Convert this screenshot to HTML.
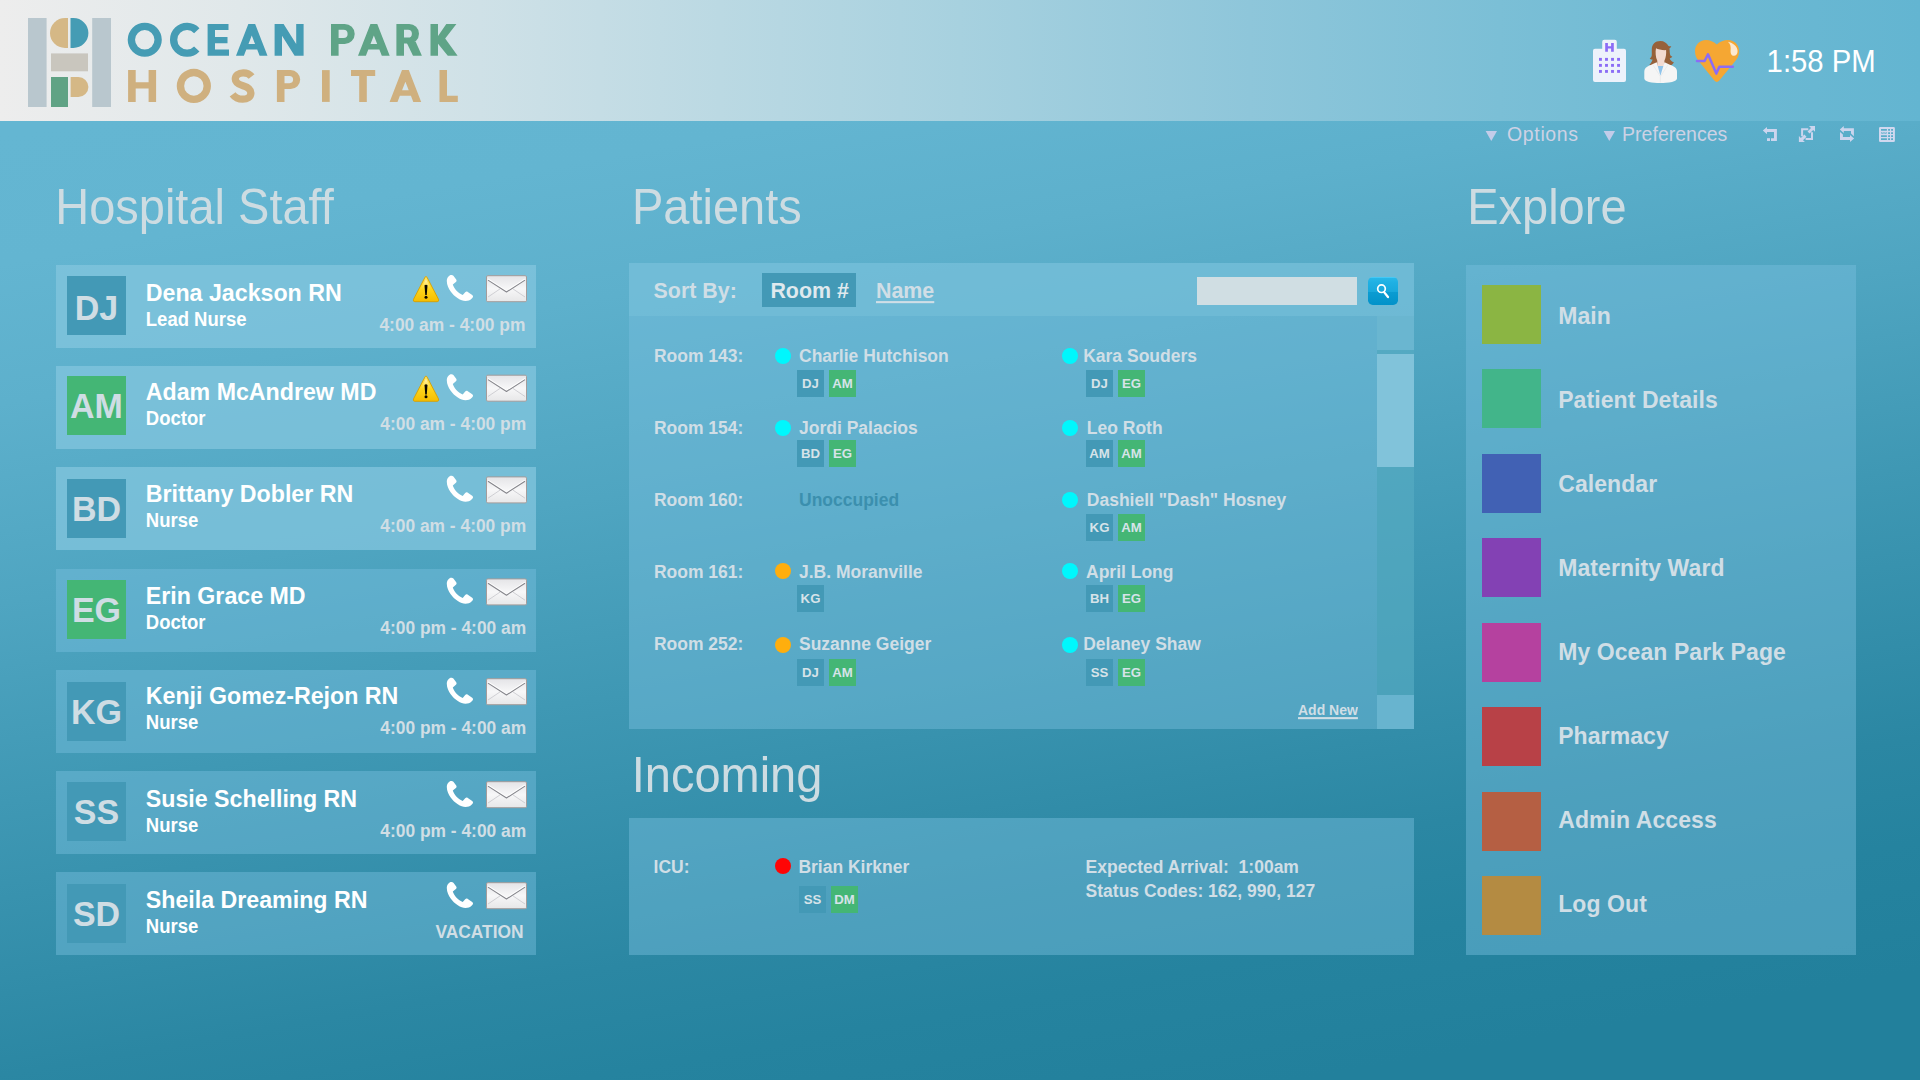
<!DOCTYPE html>
<html lang="en"><head><meta charset="utf-8"><title>Ocean Park Hospital</title>
<style>
html,body{margin:0;padding:0;}
body{width:1920px;height:1080px;overflow:hidden;font-family:"Liberation Sans",sans-serif;background:#2a86a4;}
#app{position:relative;width:1920px;height:1080px;overflow:hidden;
  background:linear-gradient(170deg,#64b6d2 9.55%,#63b5d1 18.6%,#5db0cc 28.45%,#4fa5c1 42.55%,#3f98b4 56.65%,#2b87a3 75.8%,#25839f 83.2%,#22809c 92.3%);}
.t{position:absolute;white-space:pre;line-height:1;font-family:"Liberation Sans",sans-serif;transform:scaleY(1.045);transform-origin:0 84.5%;}
.b{position:absolute;}
svg{position:absolute;overflow:visible;}
#hdr{position:absolute;left:0;top:0;width:1920px;height:121px;
  background:linear-gradient(90deg,#ededed 0%,#e0e8ea 12.5%,#cfe1e7 25%,#a7d1df 50%,#8ec6da 65.1%,#7bbfd6 78.1%,#6db9d3 89.1%,#63b5d1 100%);}
.dot{width:16px;height:16px;border-radius:50%;}
.chip{width:27px;height:27px;line-height:28.4px;text-align:center;font-size:13.2px;font-weight:700;color:#d6e3e9;font-family:"Liberation Sans",sans-serif;}

</style></head>
<body>
<div id="app">
<header id="top-bar" aria-label="Ocean Park Hospital">
<div id="hdr"></div>
<svg id="logo" width="480" height="121" viewBox="0 0 480 121" style="left:0;top:0"><rect x="28" y="18" width="18.6" height="89" fill="#b9c7ce"/><rect x="92.2" y="18" width="18.8" height="89" fill="#b9c7ce"/><path d="M68,18H65A15,15 0 0 0 65,48H68Z" fill="#d5b886"/><path d="M70.5,18H73.4A15,15 0 0 1 73.4,48H70.5Z" fill="#459cb4"/><rect x="51" y="53.4" width="37" height="17.9" fill="#c9c6be"/><rect x="51" y="77" width="17" height="30" fill="#60a385"/><path d="M70.6,77H78.4A10,10 0 0 1 78.4,97H70.6Z" fill="#d5b886"/><path d="M127.70,39.80A17.05,17.05 0 1 0 161.80,39.80A17.05,17.05 0 1 0 127.70,39.80ZM135.05,39.80A9.7,9.7 0 1 1 154.45,39.80A9.7,9.7 0 1 1 135.05,39.80Z" fill="#459cb4" fill-rule="evenodd"/><path d="M196.78,30.68A13.37,13.37 0 1 0 196.78,48.92" fill="none" stroke="#459cb4" stroke-width="7.35"/><path d="M207.6,23.9H215.0V55.8H207.6ZM214,23.9H228.5V30.1H214ZM214,37.0H227.5V43.2H214ZM214,49.6H229.0V55.8H214Z" fill="#459cb4"/><path d="M236.0,55.8L248.35,23.9L255.15,23.9L267.5,55.8ZM251.75,35.52L248.47,44.0L255.03,44.0ZM246.30,49.6L243.90,55.8L259.60,55.8L257.20,49.6Z" fill="#459cb4" fill-rule="evenodd"/><path d="M274.6,23.9H282.0V55.8H274.6ZM296.2,23.9H303.6V55.8H296.2ZM274.6,23.9L283.6,23.9L303.6,55.8L294.6,55.8Z" fill="#459cb4"/><path d="M331.0,23.9H344.70A10.0,10.0 0 0 1 344.70,43.9H338.6V55.8H331.0ZM338.6,29.8V38.0H343.50A4.1,4.1 0 0 0 343.50,29.8Z" fill="#5fa487" fill-rule="evenodd"/><path d="M358.0,55.8L370.45,23.9L377.25,23.9L389.7,55.8ZM373.85,35.43L370.51,44.0L377.19,44.0ZM368.32,49.6L365.90,55.8L381.80,55.8L379.38,49.6Z" fill="#5fa487" fill-rule="evenodd"/><path d="M396.4,23.9H409.20A9.8,9.8 0 0 1 409.20,43.5H404.0V55.8H396.4ZM404.0,29.8V37.6H408.00A3.9,3.9 0 0 0 408.00,29.8Z" fill="#5fa487" fill-rule="evenodd"/><path d="M406.6,42.5L415.6,41.5L421.9,55.8L413.0,55.8Z" fill="#5fa487"/><path d="M430.5,23.9H438.0V55.8H430.5ZM437,37.4L446.3,23.9L456.4,23.9L445.2,38.6L457.6,55.8L447.8,55.8L437,42.6Z" fill="#5fa487"/><path d="M128.1,70.1H135.7V101.9H128.1ZM148.6,70.1H156.1V101.9H148.6ZM135,82.3H149V88.5H135Z" fill="#cfb07f"/><path d="M176.75,85.95A17.1,17.1 0 1 0 210.95,85.95A17.1,17.1 0 1 0 176.75,85.95ZM184.15,85.95A9.7,9.7 0 1 1 203.55,85.95A9.7,9.7 0 1 1 184.15,85.95Z" fill="#cfb07f" fill-rule="evenodd"/><path d="M251.6,76.6C249.6,74.0 246.8,72.8 243.3,72.8C238.5,72.8 235.3,75.4 235.3,79.0C235.3,82.6 238.2,84.3 243.0,85.8C247.9,87.3 250.9,89.1 250.9,92.9C250.9,96.7 247.4,99.15 242.7,99.15C238.2,99.15 234.9,97.4 232.6,94.3" fill="none" stroke="#cfb07f" stroke-width="7.3"/><path d="M276.9,70.1H290.70A9.5,9.5 0 0 1 290.70,89.1H284.5V101.9H276.9ZM284.5,76.0V83.2H289.50A3.6,3.6 0 0 0 289.50,76.0Z" fill="#cfb07f" fill-rule="evenodd"/><path d="M322.0,70.1H329.7V101.9H322.0Z" fill="#cfb07f"/><path d="M351.0,70.1H375.2V76.0H351.0ZM359.2,70.1H366.8V101.9H359.2Z" fill="#cfb07f"/><path d="M389.6,101.9L402.00,70.1L408.80,70.1L421.2,101.9ZM405.40,81.64L402.06,90.2L408.74,90.2ZM399.88,95.8L397.50,101.9L413.30,101.9L410.92,95.8Z" fill="#cfb07f" fill-rule="evenodd"/><path d="M439.5,70.1H447.0V101.9H439.5ZM446,95.7H457.8V101.9H446Z" fill="#cfb07f"/></svg>
<svg width="1920" height="121" viewBox="0 0 1920 121" style="left:0;top:0"><path d="M1604.2,39.8H1614.8Q1616.8,39.8 1616.8,41.8V48.7H1624Q1626,48.7 1626,50.7V80Q1626,82 1624,82H1595Q1593,82 1593,80V50.7Q1593,48.7 1595,48.7H1602.2V41.8Q1602.2,39.8 1604.2,39.8Z" fill="#edf2fb"/><path d="M1605.2,43.1H1607.9V46.2H1611.1V43.1H1613.8V51.8H1611.1V48.6H1607.9V51.8H1605.2Z" fill="#8b6cf6"/><rect x="1599.00" y="57.90" width="2.9" height="2.9" fill="#8b6cf6"/><rect x="1605.03" y="57.90" width="2.9" height="2.9" fill="#8b6cf6"/><rect x="1611.06" y="57.90" width="2.9" height="2.9" fill="#8b6cf6"/><rect x="1617.09" y="57.90" width="2.9" height="2.9" fill="#8b6cf6"/><rect x="1599.00" y="63.93" width="2.9" height="2.9" fill="#8b6cf6"/><rect x="1605.03" y="63.93" width="2.9" height="2.9" fill="#8b6cf6"/><rect x="1611.06" y="63.93" width="2.9" height="2.9" fill="#8b6cf6"/><rect x="1617.09" y="63.93" width="2.9" height="2.9" fill="#8b6cf6"/><rect x="1599.00" y="69.96" width="2.9" height="2.9" fill="#8b6cf6"/><rect x="1605.03" y="69.96" width="2.9" height="2.9" fill="#8b6cf6"/><rect x="1611.06" y="69.96" width="2.9" height="2.9" fill="#8b6cf6"/><rect x="1617.09" y="69.96" width="2.9" height="2.9" fill="#8b6cf6"/></svg>
<div class="t " style="left:1766.60px;top:47px;font-size:29.3px;font-weight:400;color:#fff;">1:58 PM</div>
<svg width="1920" height="160" viewBox="0 0 1920 160" style="left:0;top:0"><path d="M1660.4,41C1655,41 1652,44.5 1651.8,49C1651.6,53 1652.3,55.5 1651.2,57C1650.7,57.8 1650,58.2 1649.7,58.4C1650.5,59.2 1651.6,59.6 1652.6,59.6C1652,61.8 1650.8,63.6 1649.3,64.8L1656,67L1665,67L1672,64.8C1672.8,64 1673.5,63.2 1673.9,62.3C1671.8,61.6 1670.3,60.2 1669.7,58.4C1670.8,58.2 1671.7,57.6 1672.3,56.6C1671,56.2 1670.3,55.5 1670.1,54.6C1669.6,52.5 1669.8,50.5 1669.4,48.5C1670.3,48 1671,47.2 1671.3,46.2C1670.3,46.5 1669.3,46.4 1668.5,46C1667,43 1664,41 1660.4,41Z" fill="#97613a"/><path d="M1656,48.2C1658,49.3 1662,50.3 1666.1,50.1C1666.4,54 1666,57.5 1664.4,60.8V67H1657.3V60.8C1655.6,57.5 1655.2,52 1656,48.2Z" fill="#f3dbd2"/><path d="M1657,66H1664.4L1660.4,77Z" fill="#8fc3ea"/><path d="M1656.7,62.3L1660.4,75.8L1664.5,62.3C1668,64 1672,65.5 1674.5,67C1676.5,68.3 1677,70 1677,72V78.5C1677,80 1675,81.2 1672,82C1668,82.8 1664,83 1660.4,83C1656,83 1652,82.8 1649,82C1646,81.2 1644.3,80 1644.3,78.5V72C1644.3,70 1644.8,68.3 1646.8,67C1649.3,65.5 1653,64 1656.7,62.3Z" fill="#f5f5f5"/><path d="M1653.2,65.2L1660.4,76.6L1667.8,65.2M1660.4,76.6V82.6" fill="none" stroke="#e6e6e6" stroke-width=".7"/><path d="M1716.8,44.6C1713.5,41.5 1710,40 1706,40C1699.5,40 1695,45 1695,51C1695,55.5 1696.5,58.5 1699.5,62L1714.3,80.6Q1716.8,83.2 1719.3,80.6L1734.5,62C1737.5,58.5 1739.1,55.5 1739.1,51C1739.1,45 1734.5,40 1728,40C1723.5,40 1720,41.5 1716.8,44.6Z" fill="#f5a733"/><path d="M1727.9,41.8C1732,42.5 1737.5,46 1737.6,51C1737.7,54 1736,55.8 1734,55.8C1731.5,55.8 1730.3,53.5 1730.6,50.5C1731,47 1730.5,44 1727.9,41.8Z" fill="#fde9cf"/><path d="M1697,61H1704.6L1708,54.3L1716.3,73.6L1719.4,66.7H1732.8" fill="none" stroke="#8b6cf6" stroke-width="2.5" stroke-linecap="round" stroke-linejoin="round"/><path d="M1485.6,131H1497L1491.3,140.9Z" fill="#c3cce9"/><path d="M1603.6,131H1615L1609.3,140.9Z" fill="#c3cce9"/><path d="M1762.8,130.55L1767,126.9V129.1H1776.9V141H1771V138.2H1774V132H1767V134.2Z" fill="#ccd5ee"/><rect x="1767" y="138.2" width="3" height="2.8" fill="#ccd5ee"/><path d="M1808.3,129.2H1802.1V136.2M1805.6,138.9H1812V132.2" fill="none" stroke="#ccd5ee" stroke-width="2"/><path d="M1809,126H1815V131.8L1813.1,130L1809.6,133.5L1807.5,131.4L1811,127.9Z" fill="#ccd5ee"/><path d="M1798.9,136V142.1H1804.9L1803,140.2L1806.5,136.7L1804.4,134.6L1800.9,138.1Z" fill="#ccd5ee"/><path d="M1839.8,129.5L1843.8,126V128.2H1853.9V136.2L1851,133.6V130.9H1843.8V132.9Z" fill="#ccd5ee"/><path d="M1854.1,138.5L1850,142.1V139.9H1840V131.9L1842.9,134.5V137.1H1850V135Z" fill="#ccd5ee"/><path d="M1880.3,126.9H1893.6Q1894.9,126.9 1894.9,128.2V140.8Q1894.9,142.1 1893.6,142.1H1880.3Q1879,142.1 1879,140.8V128.2Q1879,126.9 1880.3,126.9ZM1881,129.1h5.9v1.75h-5.9ZM1888.1,129.1h1.9v1.75h-1.9ZM1891.1,129.1h1.9v1.75h-1.9ZM1881,132.2h5.9v1.75h-5.9ZM1888.1,132.2h1.9v1.75h-1.9ZM1891.1,132.2h1.9v1.75h-1.9ZM1881,135.2h5.9v1.75h-5.9ZM1888.1,135.2h1.9v1.75h-1.9ZM1891.1,135.2h1.9v1.75h-1.9ZM1881,138.2h5.9v1.75h-5.9ZM1888.1,138.2h1.9v1.75h-1.9ZM1891.1,138.2h1.9v1.75h-1.9Z" fill="#d0d8ef" fill-rule="evenodd"/><path d="M1881,132.5l.75,1.1l.75,-1.1l.75,1.1l.75,-1.1l.75,1.1l.75,-1.1l.75,1.1l.65,-1" fill="none" stroke="#d0d8ef" stroke-width=".7"/></svg>
<div class="t " style="left:1507.00px;top:125px;font-size:19.5px;font-weight:400;color:#cdd2e5;letter-spacing:.65px;">Options</div>
<div class="t " style="left:1622.10px;top:125px;font-size:19.5px;font-weight:400;color:#cdd2e5;letter-spacing:.01px;">Preferences</div>
</header>
<section id="hospital-staff" aria-label="Hospital Staff">
<div class="t " style="left:55.20px;top:184px;font-size:47px;font-weight:400;color:#cddce2;">Hospital Staff</div>
<svg width="0" height="0" style="left:0;top:0"><defs>
<linearGradient id="gw" x1="0" y1="0" x2="0" y2="1"><stop offset="0" stop-color="#ffe36a"/><stop offset=".45" stop-color="#ffd81f"/><stop offset="1" stop-color="#f6bd00"/></linearGradient>
<linearGradient id="gwh" x1="0" y1="0" x2="0" y2="1"><stop offset="0" stop-color="#fff6c2" stop-opacity=".95"/><stop offset="1" stop-color="#ffe870" stop-opacity="0"/></linearGradient>
<linearGradient id="ge" x1="0" y1="0" x2="0" y2="1"><stop offset="0" stop-color="#e4e4e7"/><stop offset=".5" stop-color="#f7f7f8"/><stop offset="1" stop-color="#e7e7e8"/></linearGradient>
</defs></svg>
<div class="b" style="left:56px;top:265px;width:480px;height:83px;background:rgba(131,198,221,.75);"></div>
<div class="b" style="left:67px;top:276px;width:59px;height:59px;background:#4399b6;"></div>
<div class="t" style="left:67px;width:59px;text-align:center;top:291px;font-size:34px;font-weight:700;color:#cfdde4">DJ</div>
<div class="t " style="left:145.80px;top:282px;font-size:23.2px;font-weight:700;color:#fff;">Dena Jackson RN</div>
<div class="t " style="left:145.80px;top:311px;font-size:18.5px;font-weight:700;color:#fff;">Lead Nurse</div>
<div class="t " style="right:1394.60px;top:317px;font-size:17.4px;font-weight:700;color:#d0dee5;">4:00 am - 4:00 pm</div>
<div class="b" style="left:56px;top:366px;width:480px;height:83px;background:rgba(131,198,221,.75);"></div>
<div class="b" style="left:67px;top:376px;width:59px;height:59px;background:#44b675;"></div>
<div class="t" style="left:67px;width:59px;text-align:center;top:389px;font-size:34px;font-weight:700;color:#cfdde4">AM</div>
<div class="t " style="left:145.80px;top:381px;font-size:23.2px;font-weight:700;color:#fff;">Adam McAndrew MD</div>
<div class="t " style="left:145.80px;top:410px;font-size:18.5px;font-weight:700;color:#fff;">Doctor</div>
<div class="t " style="right:1393.80px;top:416px;font-size:17.4px;font-weight:700;color:#d0dee5;">4:00 am - 4:00 pm</div>
<div class="b" style="left:56px;top:467px;width:480px;height:83px;background:rgba(131,198,221,.75);"></div>
<div class="b" style="left:67px;top:479px;width:59px;height:59px;background:#4399b6;"></div>
<div class="t" style="left:67px;width:59px;text-align:center;top:492px;font-size:34px;font-weight:700;color:#cfdde4">BD</div>
<div class="t " style="left:145.80px;top:483px;font-size:23.2px;font-weight:700;color:#fff;">Brittany Dobler RN</div>
<div class="t " style="left:145.80px;top:512px;font-size:18.5px;font-weight:700;color:#fff;">Nurse</div>
<div class="t " style="right:1393.80px;top:518px;font-size:17.4px;font-weight:700;color:#d0dee5;">4:00 am - 4:00 pm</div>
<div class="b" style="left:56px;top:569px;width:480px;height:83px;background:rgba(120,191,222,.45);"></div>
<div class="b" style="left:67px;top:580px;width:59px;height:59px;background:#44b675;"></div>
<div class="t" style="left:67px;width:59px;text-align:center;top:593px;font-size:34px;font-weight:700;color:#cfdde4">EG</div>
<div class="t " style="left:145.80px;top:585px;font-size:23.2px;font-weight:700;color:#fff;">Erin Grace MD</div>
<div class="t " style="left:145.80px;top:614px;font-size:18.5px;font-weight:700;color:#fff;">Doctor</div>
<div class="t " style="right:1393.80px;top:620px;font-size:17.4px;font-weight:700;color:#d0dee5;">4:00 pm - 4:00 am</div>
<div class="b" style="left:56px;top:670px;width:480px;height:83px;background:rgba(120,191,222,.45);"></div>
<div class="b" style="left:67px;top:682px;width:59px;height:59px;background:#4399b6;"></div>
<div class="t" style="left:67px;width:59px;text-align:center;top:695px;font-size:34px;font-weight:700;color:#cfdde4">KG</div>
<div class="t " style="left:145.80px;top:685px;font-size:23.2px;font-weight:700;color:#fff;">Kenji Gomez-Rejon RN</div>
<div class="t " style="left:145.80px;top:714px;font-size:18.5px;font-weight:700;color:#fff;">Nurse</div>
<div class="t " style="right:1393.80px;top:720px;font-size:17.4px;font-weight:700;color:#d0dee5;">4:00 pm - 4:00 am</div>
<div class="b" style="left:56px;top:771px;width:480px;height:83px;background:rgba(120,191,222,.45);"></div>
<div class="b" style="left:67px;top:782px;width:59px;height:59px;background:#4399b6;"></div>
<div class="t" style="left:67px;width:59px;text-align:center;top:795px;font-size:34px;font-weight:700;color:#cfdde4">SS</div>
<div class="t " style="left:145.80px;top:788px;font-size:23.2px;font-weight:700;color:#fff;">Susie Schelling RN</div>
<div class="t " style="left:145.80px;top:817px;font-size:18.5px;font-weight:700;color:#fff;">Nurse</div>
<div class="t " style="right:1393.80px;top:823px;font-size:17.4px;font-weight:700;color:#d0dee5;">4:00 pm - 4:00 am</div>
<div class="b" style="left:56px;top:872px;width:480px;height:83px;background:rgba(120,191,222,.45);"></div>
<div class="b" style="left:67px;top:884px;width:59px;height:59px;background:#4399b6;"></div>
<div class="t" style="left:67px;width:59px;text-align:center;top:897px;font-size:34px;font-weight:700;color:#cfdde4">SD</div>
<div class="t " style="left:145.80px;top:889px;font-size:23.2px;font-weight:700;color:#fff;">Sheila Dreaming RN</div>
<div class="t " style="left:145.80px;top:918px;font-size:18.5px;font-weight:700;color:#fff;">Nurse</div>
<div class="t " style="right:1396.40px;top:924px;font-size:17.4px;font-weight:700;color:#d0dee5;">VACATION</div>
<svg width="1920" height="1080" viewBox="0 0 1920 1080" style="left:0;top:0;pointer-events:none"><g transform="translate(413 276.0)"><path d="M12.1,1.1Q13,-0.4 13.9,1.1L25.5,23.3Q26.3,25.6 24.2,25.7H1.8Q-0.3,25.6 0.5,23.3Z" fill="url(#gw)" stroke="#d79f00" stroke-width="0.9" stroke-linejoin="round"/><path d="M13,3.2L18.3,13.5Q13,11.8 7.7,13.5Z" fill="url(#gwh)"/><path d="M11.5,9.3Q13,8.1 14.5,9.3L13.75,18.9H12.25Z" fill="#0a0700"/><circle cx="13" cy="21.2" r="1.5" fill="#0a0700"/></g><g transform="translate(446.8 274.9)"><path d="M4.4,0.1C2.7,0 0,2.6 0,6.1C0.1,10.1 1.7,13.6 3.7,16.3C5.7,19.1 8.2,21.6 11,23.3C13.7,25 16.2,26.1 18.7,26.1C21.2,26.1 23.2,25.4 25,23.6C26.7,21.9 26.5,20.9 25.4,20L21,17C20,16.3 19.2,16.5 18.4,17.3L15.9,20.2C13.2,19.1 11.2,17.6 9.5,15.7C7.8,13.8 6.7,11.9 6,9.7L9.1,7.1C9.9,6.4 10,5.6 9.4,4.6L6.6,0.9C6,0.2 5.2,0 4.4,0.1Z" fill="#fff"/></g><g transform="translate(486 275.2)"><rect x="0.5" y="0.5" width="40" height="26" rx="1.3" fill="url(#ge)" stroke="#a39c9b" stroke-width="1"/><path d="M2,21.8L14.2,13.6M39,21.8L26.8,13.6" stroke="#c6c6cb" stroke-width="0.8" fill="none"/><path d="M2,4.0L20.5,15.9L39,4.0" stroke="#ffffff" stroke-width="1.6" fill="none" opacity=".9"/><path d="M2,4.9L20.5,16.8L39,4.9" stroke="#85858b" stroke-width="1.05" fill="none" stroke-linejoin="round"/></g><g transform="translate(413 375.6)"><path d="M12.1,1.1Q13,-0.4 13.9,1.1L25.5,23.3Q26.3,25.6 24.2,25.7H1.8Q-0.3,25.6 0.5,23.3Z" fill="url(#gw)" stroke="#d79f00" stroke-width="0.9" stroke-linejoin="round"/><path d="M13,3.2L18.3,13.5Q13,11.8 7.7,13.5Z" fill="url(#gwh)"/><path d="M11.5,9.3Q13,8.1 14.5,9.3L13.75,18.9H12.25Z" fill="#0a0700"/><circle cx="13" cy="21.2" r="1.5" fill="#0a0700"/></g><g transform="translate(446.8 374.2)"><path d="M4.4,0.1C2.7,0 0,2.6 0,6.1C0.1,10.1 1.7,13.6 3.7,16.3C5.7,19.1 8.2,21.6 11,23.3C13.7,25 16.2,26.1 18.7,26.1C21.2,26.1 23.2,25.4 25,23.6C26.7,21.9 26.5,20.9 25.4,20L21,17C20,16.3 19.2,16.5 18.4,17.3L15.9,20.2C13.2,19.1 11.2,17.6 9.5,15.7C7.8,13.8 6.7,11.9 6,9.7L9.1,7.1C9.9,6.4 10,5.6 9.4,4.6L6.6,0.9C6,0.2 5.2,0 4.4,0.1Z" fill="#fff"/></g><g transform="translate(486 374.7)"><rect x="0.5" y="0.5" width="40" height="26" rx="1.3" fill="url(#ge)" stroke="#a39c9b" stroke-width="1"/><path d="M2,21.8L14.2,13.6M39,21.8L26.8,13.6" stroke="#c6c6cb" stroke-width="0.8" fill="none"/><path d="M2,4.0L20.5,15.9L39,4.0" stroke="#ffffff" stroke-width="1.6" fill="none" opacity=".9"/><path d="M2,4.9L20.5,16.8L39,4.9" stroke="#85858b" stroke-width="1.05" fill="none" stroke-linejoin="round"/></g><g transform="translate(446.8 475.7)"><path d="M4.4,0.1C2.7,0 0,2.6 0,6.1C0.1,10.1 1.7,13.6 3.7,16.3C5.7,19.1 8.2,21.6 11,23.3C13.7,25 16.2,26.1 18.7,26.1C21.2,26.1 23.2,25.4 25,23.6C26.7,21.9 26.5,20.9 25.4,20L21,17C20,16.3 19.2,16.5 18.4,17.3L15.9,20.2C13.2,19.1 11.2,17.6 9.5,15.7C7.8,13.8 6.7,11.9 6,9.7L9.1,7.1C9.9,6.4 10,5.6 9.4,4.6L6.6,0.9C6,0.2 5.2,0 4.4,0.1Z" fill="#fff"/></g><g transform="translate(486 476.4)"><rect x="0.5" y="0.5" width="40" height="26" rx="1.3" fill="url(#ge)" stroke="#a39c9b" stroke-width="1"/><path d="M2,21.8L14.2,13.6M39,21.8L26.8,13.6" stroke="#c6c6cb" stroke-width="0.8" fill="none"/><path d="M2,4.0L20.5,15.9L39,4.0" stroke="#ffffff" stroke-width="1.6" fill="none" opacity=".9"/><path d="M2,4.9L20.5,16.8L39,4.9" stroke="#85858b" stroke-width="1.05" fill="none" stroke-linejoin="round"/></g><g transform="translate(446.8 577.7)"><path d="M4.4,0.1C2.7,0 0,2.6 0,6.1C0.1,10.1 1.7,13.6 3.7,16.3C5.7,19.1 8.2,21.6 11,23.3C13.7,25 16.2,26.1 18.7,26.1C21.2,26.1 23.2,25.4 25,23.6C26.7,21.9 26.5,20.9 25.4,20L21,17C20,16.3 19.2,16.5 18.4,17.3L15.9,20.2C13.2,19.1 11.2,17.6 9.5,15.7C7.8,13.8 6.7,11.9 6,9.7L9.1,7.1C9.9,6.4 10,5.6 9.4,4.6L6.6,0.9C6,0.2 5.2,0 4.4,0.1Z" fill="#fff"/></g><g transform="translate(486 578.4)"><rect x="0.5" y="0.5" width="40" height="26" rx="1.3" fill="url(#ge)" stroke="#a39c9b" stroke-width="1"/><path d="M2,21.8L14.2,13.6M39,21.8L26.8,13.6" stroke="#c6c6cb" stroke-width="0.8" fill="none"/><path d="M2,4.0L20.5,15.9L39,4.0" stroke="#ffffff" stroke-width="1.6" fill="none" opacity=".9"/><path d="M2,4.9L20.5,16.8L39,4.9" stroke="#85858b" stroke-width="1.05" fill="none" stroke-linejoin="round"/></g><g transform="translate(446.8 677.7)"><path d="M4.4,0.1C2.7,0 0,2.6 0,6.1C0.1,10.1 1.7,13.6 3.7,16.3C5.7,19.1 8.2,21.6 11,23.3C13.7,25 16.2,26.1 18.7,26.1C21.2,26.1 23.2,25.4 25,23.6C26.7,21.9 26.5,20.9 25.4,20L21,17C20,16.3 19.2,16.5 18.4,17.3L15.9,20.2C13.2,19.1 11.2,17.6 9.5,15.7C7.8,13.8 6.7,11.9 6,9.7L9.1,7.1C9.9,6.4 10,5.6 9.4,4.6L6.6,0.9C6,0.2 5.2,0 4.4,0.1Z" fill="#fff"/></g><g transform="translate(486 678.2)"><rect x="0.5" y="0.5" width="40" height="26" rx="1.3" fill="url(#ge)" stroke="#a39c9b" stroke-width="1"/><path d="M2,21.8L14.2,13.6M39,21.8L26.8,13.6" stroke="#c6c6cb" stroke-width="0.8" fill="none"/><path d="M2,4.0L20.5,15.9L39,4.0" stroke="#ffffff" stroke-width="1.6" fill="none" opacity=".9"/><path d="M2,4.9L20.5,16.8L39,4.9" stroke="#85858b" stroke-width="1.05" fill="none" stroke-linejoin="round"/></g><g transform="translate(446.8 780.9)"><path d="M4.4,0.1C2.7,0 0,2.6 0,6.1C0.1,10.1 1.7,13.6 3.7,16.3C5.7,19.1 8.2,21.6 11,23.3C13.7,25 16.2,26.1 18.7,26.1C21.2,26.1 23.2,25.4 25,23.6C26.7,21.9 26.5,20.9 25.4,20L21,17C20,16.3 19.2,16.5 18.4,17.3L15.9,20.2C13.2,19.1 11.2,17.6 9.5,15.7C7.8,13.8 6.7,11.9 6,9.7L9.1,7.1C9.9,6.4 10,5.6 9.4,4.6L6.6,0.9C6,0.2 5.2,0 4.4,0.1Z" fill="#fff"/></g><g transform="translate(486 781.2)"><rect x="0.5" y="0.5" width="40" height="26" rx="1.3" fill="url(#ge)" stroke="#a39c9b" stroke-width="1"/><path d="M2,21.8L14.2,13.6M39,21.8L26.8,13.6" stroke="#c6c6cb" stroke-width="0.8" fill="none"/><path d="M2,4.0L20.5,15.9L39,4.0" stroke="#ffffff" stroke-width="1.6" fill="none" opacity=".9"/><path d="M2,4.9L20.5,16.8L39,4.9" stroke="#85858b" stroke-width="1.05" fill="none" stroke-linejoin="round"/></g><g transform="translate(446.8 881.9)"><path d="M4.4,0.1C2.7,0 0,2.6 0,6.1C0.1,10.1 1.7,13.6 3.7,16.3C5.7,19.1 8.2,21.6 11,23.3C13.7,25 16.2,26.1 18.7,26.1C21.2,26.1 23.2,25.4 25,23.6C26.7,21.9 26.5,20.9 25.4,20L21,17C20,16.3 19.2,16.5 18.4,17.3L15.9,20.2C13.2,19.1 11.2,17.6 9.5,15.7C7.8,13.8 6.7,11.9 6,9.7L9.1,7.1C9.9,6.4 10,5.6 9.4,4.6L6.6,0.9C6,0.2 5.2,0 4.4,0.1Z" fill="#fff"/></g><g transform="translate(486 882.2)"><rect x="0.5" y="0.5" width="40" height="26" rx="1.3" fill="url(#ge)" stroke="#a39c9b" stroke-width="1"/><path d="M2,21.8L14.2,13.6M39,21.8L26.8,13.6" stroke="#c6c6cb" stroke-width="0.8" fill="none"/><path d="M2,4.0L20.5,15.9L39,4.0" stroke="#ffffff" stroke-width="1.6" fill="none" opacity=".9"/><path d="M2,4.9L20.5,16.8L39,4.9" stroke="#85858b" stroke-width="1.05" fill="none" stroke-linejoin="round"/></g></svg>
</section>
<section id="patients" aria-label="Patients and Incoming">
<div class="t " style="left:631.90px;top:184px;font-size:47px;font-weight:400;color:#cddce2;">Patients</div>
<div class="t " style="left:631.70px;top:752px;font-size:47px;font-weight:400;color:#cddce2;">Incoming</div>
<div class="b" style="left:629px;top:263px;width:785px;height:53px;background:rgba(121,193,219,.72);"></div>
<div class="b" style="left:629px;top:316px;width:748px;height:413px;background:rgba(120,191,222,.45);"></div>
<div class="b" style="left:1377px;top:316px;width:37px;height:34px;background:rgba(107,182,209,.95);"></div>
<div class="b" style="left:1377px;top:350px;width:37px;height:345px;background:rgba(87,171,194,.67);"></div>
<div class="b" style="left:1377px;top:354px;width:37px;height:113px;background:rgba(134,198,220,.92);"></div>
<div class="b" style="left:1377px;top:695px;width:37px;height:34px;background:rgba(107,182,209,.95);"></div>
<div class="t " style="left:653.60px;top:281px;font-size:21.4px;font-weight:700;color:#d0dee6;">Sort By:</div>
<div class="b" style="left:762px;top:273.4px;width:94px;height:33.4px;background:#4399b6;"></div>
<div class="t " style="left:770.40px;top:281px;font-size:21.4px;font-weight:700;color:#dfe9ee;">Room #</div>
<div class="t " style="left:876.00px;top:281px;font-size:21.4px;font-weight:700;color:#d0dee6;text-decoration:underline;text-decoration-thickness:2px;text-underline-offset:3px;">Name</div>
<div class="b" style="left:1197px;top:277px;width:160px;height:28px;background:#d0dee3;"></div>
<div class="b" style="left:1368px;top:277px;width:30px;height:28.2px;border-radius:4.8px;background:linear-gradient(180deg,#58d2fd 0,#27b7e8 1.3px,#1fb0e3 20%,#18a8dc 53%,#0b9cd2 54%,#0292c9 100%)"></div>
<svg width="30" height="28" viewBox="0 0 30 28" style="left:1368px;top:277px"><circle cx="13.5" cy="11.7" r="3.8" fill="none" stroke="#fff" stroke-width="1.7"/><path d="M16.3,15.4L20.0,20.0" stroke="#fff" stroke-width="2.3" stroke-linecap="round"/></svg>
<div class="t " style="left:653.90px;top:348px;font-size:17.5px;font-weight:700;color:#d0dee6;">Room 143:</div>
<div class="b dot" style="left:775px;top:348px;background:#00f7fd"></div>
<div class="t " style="left:799.00px;top:348px;font-size:17.5px;font-weight:700;color:#d0dee6;">Charlie Hutchison</div>
<div class="b chip" style="left:797px;top:370px;background:#4399b6">DJ</div><div class="b chip" style="left:829px;top:370px;background:#44b675">AM</div>
<div class="b dot" style="left:1062px;top:348px;background:#00f7fd"></div>
<div class="t " style="left:1083.20px;top:348px;font-size:17.5px;font-weight:700;color:#d0dee6;">Kara Souders</div>
<div class="b chip" style="left:1086px;top:370px;background:#4399b6">DJ</div><div class="b chip" style="left:1118px;top:370px;background:#44b675">EG</div>
<div class="t " style="left:653.90px;top:420px;font-size:17.5px;font-weight:700;color:#d0dee6;">Room 154:</div>
<div class="b dot" style="left:775px;top:420px;background:#00f7fd"></div>
<div class="t " style="left:799.00px;top:420px;font-size:17.5px;font-weight:700;color:#d0dee6;">Jordi Palacios</div>
<div class="b chip" style="left:797px;top:440px;background:#4399b6">BD</div><div class="b chip" style="left:829px;top:440px;background:#44b675">EG</div>
<div class="b dot" style="left:1062px;top:420px;background:#00f7fd"></div>
<div class="t " style="left:1086.80px;top:420px;font-size:17.5px;font-weight:700;color:#d0dee6;">Leo Roth</div>
<div class="b chip" style="left:1086px;top:440px;background:#4399b6">AM</div><div class="b chip" style="left:1118px;top:440px;background:#44b675">AM</div>
<div class="t " style="left:653.90px;top:492px;font-size:17.5px;font-weight:700;color:#d0dee6;">Room 160:</div>
<div class="t " style="left:799.00px;top:492px;font-size:17.5px;font-weight:700;color:#3b8fae;">Unoccupied</div>
<div class="b dot" style="left:1062px;top:492px;background:#00f7fd"></div>
<div class="t " style="left:1086.80px;top:492px;font-size:17.5px;font-weight:700;color:#d0dee6;">Dashiell "Dash" Hosney</div>
<div class="b chip" style="left:1086px;top:514px;background:#4399b6">KG</div><div class="b chip" style="left:1118px;top:514px;background:#44b675">AM</div>
<div class="t " style="left:653.90px;top:564px;font-size:17.5px;font-weight:700;color:#d0dee6;">Room 161:</div>
<div class="b dot" style="left:775px;top:563px;background:#ffae0d"></div>
<div class="t " style="left:799.00px;top:564px;font-size:17.5px;font-weight:700;color:#d0dee6;">J.B. Moranville</div>
<div class="b chip" style="left:797px;top:585px;background:#4399b6">KG</div>
<div class="b dot" style="left:1062px;top:563px;background:#00f7fd"></div>
<div class="t " style="left:1086.00px;top:564px;font-size:17.5px;font-weight:700;color:#d0dee6;">April Long</div>
<div class="b chip" style="left:1086px;top:585px;background:#4399b6">BH</div><div class="b chip" style="left:1118px;top:585px;background:#44b675">EG</div>
<div class="t " style="left:653.90px;top:636px;font-size:17.5px;font-weight:700;color:#d0dee6;">Room 252:</div>
<div class="b dot" style="left:775px;top:637px;background:#ffae0d"></div>
<div class="t " style="left:799.00px;top:636px;font-size:17.5px;font-weight:700;color:#d0dee6;">Suzanne Geiger</div>
<div class="b chip" style="left:797px;top:659px;background:#4399b6">DJ</div><div class="b chip" style="left:829px;top:659px;background:#44b675">AM</div>
<div class="b dot" style="left:1062px;top:637px;background:#00f7fd"></div>
<div class="t " style="left:1083.20px;top:636px;font-size:17.5px;font-weight:700;color:#d0dee6;">Delaney Shaw</div>
<div class="b chip" style="left:1086px;top:659px;background:#4399b6">SS</div><div class="b chip" style="left:1118px;top:659px;background:#44b675">EG</div>
<div class="t " style="left:1298.00px;top:703px;font-size:14px;font-weight:700;color:#d0dee6;text-decoration:underline;text-decoration-thickness:1.5px;text-underline-offset:2px;">Add New</div>
<div class="b" style="left:629px;top:818px;width:785px;height:136.5px;background:rgba(120,191,222,.45);"></div>
<div class="t " style="left:653.60px;top:859px;font-size:17.5px;font-weight:700;color:#d0dee6;">ICU:</div>
<div class="b dot" style="left:775px;top:858px;background:#ff0505"></div>
<div class="t " style="left:798.40px;top:859px;font-size:17.5px;font-weight:700;color:#d0dee6;">Brian Kirkner</div>
<div class="b chip" style="left:799px;top:886px;background:#4399b6">SS</div>
<div class="b chip" style="left:831px;top:886px;background:#44b675">DM</div>
<div class="t " style="left:1085.60px;top:859px;font-size:17.5px;font-weight:700;color:#d0dee6;">Expected Arrival:  1:00am</div>
<div class="t " style="left:1085.60px;top:883px;font-size:17.5px;font-weight:700;color:#d0dee6;">Status Codes: 162, 990, 127</div>
</section>
<nav id="explore" aria-label="Explore">
<div class="t " style="left:1467.20px;top:184px;font-size:47px;font-weight:400;color:#cddce2;">Explore</div>
<div class="b" style="left:1466px;top:265px;width:390px;height:690px;background:rgba(120,191,222,.45);"></div>
<div class="b" style="left:1482px;top:285px;width:59px;height:59px;background:#8bb543;"></div>
<div class="t " style="left:1558.20px;top:305px;font-size:23px;font-weight:700;color:#d0dee6;letter-spacing:.08px;">Main</div>
<div class="b" style="left:1482px;top:369px;width:59px;height:59px;background:#42b58a;"></div>
<div class="t " style="left:1558.20px;top:389px;font-size:23px;font-weight:700;color:#d0dee6;letter-spacing:.08px;">Patient Details</div>
<div class="b" style="left:1482px;top:454px;width:59px;height:59px;background:#4161b4;"></div>
<div class="t " style="left:1558.20px;top:473px;font-size:23px;font-weight:700;color:#d0dee6;letter-spacing:.08px;">Calendar</div>
<div class="b" style="left:1482px;top:538px;width:59px;height:59px;background:#8341b4;"></div>
<div class="t " style="left:1558.20px;top:557px;font-size:23px;font-weight:700;color:#d0dee6;letter-spacing:.08px;">Maternity Ward</div>
<div class="b" style="left:1482px;top:623px;width:59px;height:59px;background:#b5419f;"></div>
<div class="t " style="left:1558.20px;top:641px;font-size:23px;font-weight:700;color:#d0dee6;letter-spacing:.08px;">My Ocean Park Page</div>
<div class="b" style="left:1482px;top:707px;width:59px;height:59px;background:#b84147;"></div>
<div class="t " style="left:1558.20px;top:725px;font-size:23px;font-weight:700;color:#d0dee6;letter-spacing:.08px;">Pharmacy</div>
<div class="b" style="left:1482px;top:792px;width:59px;height:59px;background:#b55f43;"></div>
<div class="t " style="left:1558.20px;top:809px;font-size:23px;font-weight:700;color:#d0dee6;letter-spacing:.08px;">Admin Access</div>
<div class="b" style="left:1482px;top:876px;width:59px;height:59px;background:#b48b42;"></div>
<div class="t " style="left:1558.20px;top:893px;font-size:23px;font-weight:700;color:#d0dee6;letter-spacing:.08px;">Log Out</div>
</nav>
</div>
</body></html>
